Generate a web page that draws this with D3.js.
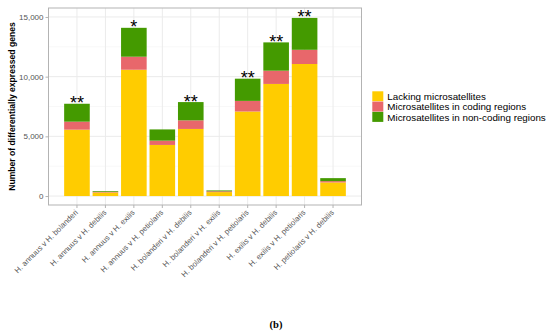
<!DOCTYPE html>
<html>
<head>
<meta charset="utf-8">
<script src="https://cdn.jsdelivr.net/npm/d3@7"></script>
<style>
  body { margin: 0; background: #fff; }
  svg { display: block; font-family: "Liberation Sans", Arial, sans-serif; }
</style>
</head>
<body>
<svg width="550" height="335"></svg>
<script>
var categories = [
    "H. annuus v H. bolanderi", "H. annuus v H. debilis", "H. annuus v H. exilis",
    "H. annuus v H. petiolaris", "H. bolanderi v H. debilis", "H. bolanderi v H. exilis",
    "H. bolanderi v H. petiolaris", "H. exilis v H. debilis", "H. exilis v H. petiolaris",
    "H. petiolaris v H. debilis"
];
var lacking = [5560, 300, 10580, 4280, 5620, 330, 7080, 9390, 11060, 1140];
var coding = [670, 60, 1090, 360, 720, 70, 890, 1110, 1190, 110];
var nonCoding = [1500, 60, 2420, 940, 1530, 70, 1860, 2370, 2670, 250];
var stars = ["**", "", "*", "", "**", "", "**", "**", "**", ""];
var seriesNames = ["Lacking microsatellites", "Microsatellites in coding regions", "Microsatellites in non-coding regions"];
var seriesColors = ["#ffcc00", "#e8676b", "#449a00"];
var yTicks = [0, 5000, 10000, 15000];

var svg = d3.select("svg");
var pLeft = 48.5, pRight = 361.5, pTop = 8, pBottom = 205;

var rows = categories.map(function (c, i) {
    return { cat: c, a: lacking[i], b: coding[i], c: nonCoding[i], star: stars[i] };
});
var stack = d3.stack().keys(["a", "b", "c"])(rows);

var x = d3.scaleBand().domain(categories).range([pLeft, pRight]).paddingInner(0.1).paddingOuter(0.55);
var y = d3.scaleLinear().domain([-750, 15750]).range([pBottom, pTop]);

// grid
var minor = [2500, 7500, 12500];
svg.selectAll(".minor").data(minor).enter().append("line")
    .attr("x1", pLeft).attr("x2", pRight)
    .attr("y1", function (d) { return y(d); }).attr("y2", function (d) { return y(d); })
    .style("stroke", "#f3f3f3").style("stroke-width", 0.6);
svg.selectAll(".major").data(yTicks).enter().append("line")
    .attr("x1", pLeft).attr("x2", pRight)
    .attr("y1", function (d) { return y(d); }).attr("y2", function (d) { return y(d); })
    .style("stroke", "#ebebeb").style("stroke-width", 1);
svg.selectAll(".vgrid").data(categories).enter().append("line")
    .attr("x1", function (d) { return x(d) + x.bandwidth() / 2; })
    .attr("x2", function (d) { return x(d) + x.bandwidth() / 2; })
    .attr("y1", pTop).attr("y2", pBottom)
    .style("stroke", "#ebebeb").style("stroke-width", 1);

// bars
svg.selectAll(".layer").data(stack).enter().append("g")
    .style("fill", function (d, i) { return seriesColors[i]; })
    .selectAll("rect").data(function (d) { return d; }).enter().append("rect")
    .attr("x", function (d) { return x(d.data.cat); })
    .attr("width", x.bandwidth())
    .attr("y", function (d) { return y(d[1]); })
    .attr("height", function (d) { return y(d[0]) - y(d[1]); });

// stars
svg.selectAll(".star").data(rows).enter().append("text")
    .attr("x", function (d) { return x(d.cat) + x.bandwidth() / 2; })
    .attr("y", function (d) { return y(d.a + d.b + d.c) + 5.5; })
    .attr("text-anchor", "middle")
    .style("font-size", "18px").style("fill", "#000")
    .text(function (d) { return d.star; });

// panel border
svg.append("rect").attr("x", pLeft).attr("y", pTop)
    .attr("width", pRight - pLeft).attr("height", pBottom - pTop)
    .style("fill", "none").style("stroke", "#b3b3b3").style("stroke-width", 1);

// axes
var yAxis = svg.append("g").attr("transform", "translate(" + pLeft + ",0)")
    .call(d3.axisLeft(y).tickValues(yTicks).tickSize(3).tickPadding(2).tickFormat(d3.format(",")));
yAxis.select(".domain").remove();
yAxis.selectAll("line").style("stroke", "#b3b3b3");
yAxis.selectAll("text").style("fill", "#555").style("font-size", "8px");

var xAxis = svg.append("g").attr("transform", "translate(0," + pBottom + ")")
    .call(d3.axisBottom(x).tickSize(3).tickPadding(2));
xAxis.select(".domain").remove();
xAxis.selectAll("line").style("stroke", "#b3b3b3");
xAxis.selectAll("text")
    .style("fill", "#555").style("font-size", "7.8px")
    .attr("text-anchor", "end")
    .attr("x", 0).attr("y", 0).attr("dy", null)
    .attr("transform", "translate(1.5,8) rotate(-45)");

// y title
svg.append("text")
    .attr("transform", "translate(15,106.5) rotate(-90)")
    .attr("text-anchor", "middle")
    .style("font-weight", "bold").style("font-size", "8.6px")
    .text("Number of differentially expressed genes");

// legend
var legend = svg.selectAll(".legend").data(seriesNames).enter().append("g")
    .attr("transform", function (d, i) { return "translate(372.3," + (91.3 + i * 10.3) + ")"; });
legend.append("rect").attr("width", 11).attr("height", 10)
    .style("fill", function (d, i) { return seriesColors[i]; });
legend.append("text").attr("x", 15).attr("y", 8.7)
    .style("fill", "#000").style("font-size", "9.8px")
    .text(function (d) { return d; });

// caption
svg.append("text").attr("x", 276).attr("y", 328).attr("text-anchor", "middle")
    .style("font-family", "'Liberation Serif', serif").style("font-size", "10.5px").style("font-weight", "bold")
    .text("(b)");
</script>
</body>
</html>
